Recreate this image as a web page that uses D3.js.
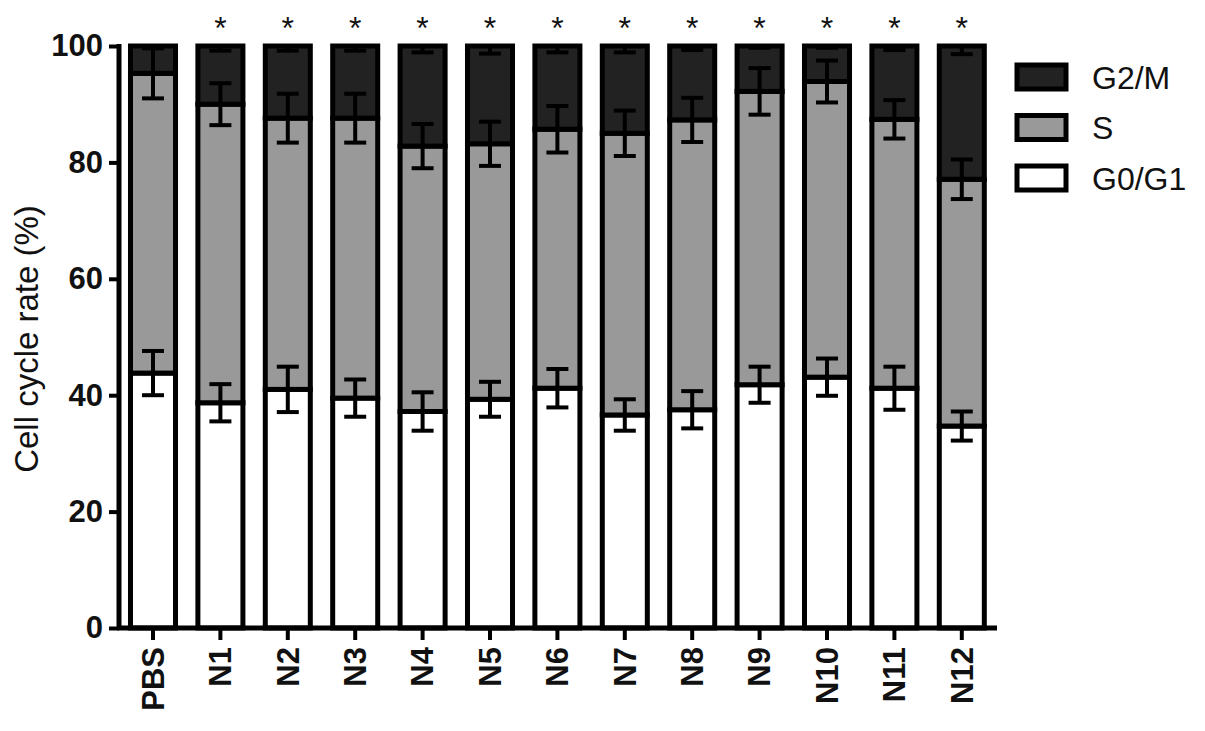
<!DOCTYPE html>
<meta charset="utf-8">
<head>
	<title>Cell cycle</title>
</head>
<style>
	body { margin: 0; background: #fff; }
	svg text { font-family: "Liberation Sans", Arial, Helvetica, sans-serif; fill: #111; }
</style>
<body>
	<svg width="1205" height="731"></svg>
	<script src="https://d3js.org/d3.v7.min.js"></script>
	<script>
var categories = ["PBS", "N1", "N2", "N3", "N4", "N5", "N6", "N7", "N8", "N9", "N10", "N11", "N12"];
var g0g1 = [43.8, 38.7, 41.0, 39.5, 37.2, 39.3, 41.2, 36.6, 37.5, 41.8, 43.1, 41.2, 34.7];
var g0g1Err = [3.8, 3.2, 3.9, 3.2, 3.3, 3.0, 3.3, 2.7, 3.2, 3.1, 3.2, 3.7, 2.5];
var sPhase = [51.5, 51.3, 46.6, 48.1, 45.6, 43.9, 44.5, 48.4, 49.8, 50.4, 50.8, 46.2, 42.4];
var sErr = [4.3, 3.6, 4.2, 4.2, 3.8, 3.8, 4.0, 3.9, 3.8, 4.0, 3.6, 3.3, 3.4];
var g2m = [4.7, 10.0, 12.4, 12.4, 17.2, 16.8, 14.3, 15.0, 12.7, 7.8, 6.1, 12.6, 22.9];
var g2mErr = [0.3, 0.8, 0.8, 0.8, 1.1, 1.3, 1.1, 1.1, 0.7, 0.3, 0.3, 0.7, 1.4];
var significant = [false, true, true, true, true, true, true, true, true, true, true, true, true];
var yTicks = [0, 20, 40, 60, 80, 100];

var phases = [
	{name: "G0/G1", vals: g0g1, err: g0g1Err, fill: "#ffffff"},
	{name: "S", vals: sPhase, err: sErr, fill: "#999999"},
	{name: "G2/M", vals: g2m, err: g2mErr, fill: "#222222"}
];

var svg = d3.select("svg");
var x = d3.scaleBand().domain(categories).range([119.3, 995.5]).paddingInner(0.332).paddingOuter(0.166);
var y = d3.scaleLinear().domain([0, 100]).range([628, 46]);

// stacked segments
var segs = [];
categories.forEach(function(c, i) {
	var base = 0;
	phases.forEach(function(p) {
		segs.push({cat: c, y0: base, y1: base + p.vals[i], err: p.err[i], fill: p.fill});
		base += p.vals[i];
	});
});

svg.append("g").selectAll("rect")
	.data(segs)
	.enter().append("rect")
	.attr("x", function(d) {return x(d.cat);})
	.attr("width", x.bandwidth())
	.attr("y", function(d) {return y(d.y1);})
	.attr("height", function(d) {return y(d.y0) - y(d.y1);})
	.style("fill", function(d) {return d.fill;})
	.style("stroke", "#000")
	.style("stroke-width", 5);

// error bars at top of each segment
var capW = 22;
var eb = svg.append("g").style("stroke", "#000").style("stroke-width", 4);
segs.forEach(function(d) {
	var cx = x(d.cat) + x.bandwidth() / 2;
	var hi = Math.min(100, d.y1 + d.err), lo = d.y1 - d.err;
	eb.append("line").attr("x1", cx).attr("x2", cx).attr("y1", y(hi)).attr("y2", y(lo));
	eb.append("line").attr("x1", cx - capW / 2).attr("x2", cx + capW / 2).attr("y1", y(lo)).attr("y2", y(lo));
	if (d.y1 + d.err < 100)
		eb.append("line").attr("x1", cx - capW / 2).attr("x2", cx + capW / 2).attr("y1", y(hi)).attr("y2", y(hi));
});

// axes
var yAxis = svg.append("g")
	.attr("transform", "translate(119,0)")
	.call(d3.axisLeft(y).tickValues(yTicks).tickSize(10).tickSizeOuter(0).tickPadding(6));
var xAxis = svg.append("g")
	.attr("transform", "translate(0,628)")
	.call(d3.axisBottom(x).tickSize(12).tickSizeOuter(0));
[yAxis, xAxis].forEach(function(a) {
	a.select(".domain").style("stroke", "#000").style("stroke-width", 5);
	a.selectAll(".tick line").style("stroke", "#000").style("stroke-width", 4);
	a.selectAll("text").style("font-size", "31px").style("font-weight", "bold").style("fill", "#111");
});
xAxis.select(".domain").attr("d", "M117,0H997");
yAxis.select(".domain").attr("d", "M0,630V44");
xAxis.selectAll(".tick text")
	.attr("transform", "rotate(-90)")
	.attr("text-anchor", "end")
	.attr("x", -19)
	.attr("y", 0)
	.attr("dy", "0.35em");

// significance stars
svg.append("g").selectAll("text")
	.data(categories.filter(function(c, i) {return significant[i];}))
	.enter().append("text")
	.attr("x", function(c) {return x(c) + x.bandwidth() / 2;})
	.attr("y", 39)
	.attr("text-anchor", "middle")
	.style("font-size", "32px")
	.text("*");

// y title
svg.append("text")
	.attr("transform", "translate(38,339) rotate(-90)")
	.attr("text-anchor", "middle")
	.style("font-size", "33px")
	.text("Cell cycle rate (%)");

// legend
var legend = svg.append("g").attr("transform", "translate(1017,0)");
var legRows = phases.slice().reverse();
legRows.forEach(function(p, i) {
	var cy = 77 + i * 50.5;
	legend.append("rect")
		.attr("x", 0).attr("y", cy - 12).attr("width", 49).attr("height", 24)
		.style("fill", p.fill).style("stroke", "#000").style("stroke-width", 5);
	legend.append("text")
		.attr("x", 75).attr("y", cy).attr("dy", "0.36em")
		.style("font-size", "32px")
		.text(p.name);
});
	</script>
</body>
</html>
